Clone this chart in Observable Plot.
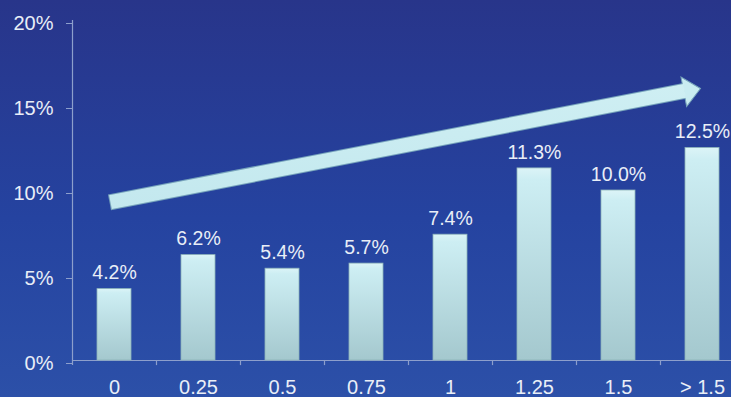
<!DOCTYPE html>
<html>
<head>
<meta charset="utf-8">
<script src="https://cdn.jsdelivr.net/npm/d3@7"></script>
<script src="https://cdn.jsdelivr.net/npm/@observablehq/plot@0.6"></script>
<style>
  html, body { margin: 0; padding: 0; background: #2a449e; overflow: hidden; }
  #chart svg { display: block; }
</style>
</head>
<body>
<div id="chart"></div>
<script>
// ---- data ----
const categories = ["0", "0.25", "0.5", "0.75", "1", "1.25", "1.5", "> 1.5"];
const values = [4.2, 6.2, 5.4, 5.7, 7.4, 11.3, 10.0, 12.5];
const yTicks = [0, 5, 10, 15, 20];
const trendFrom = ["0", 9.3];
const trendTo = ["> 1.5", 16.0];

const rows = categories.map((c, i) => ({category: c, value: values[i]}));
const trend = [{x1: trendFrom[0], y1: trendFrom[1], x2: trendTo[0], y2: trendTo[1]}];

const textColor = "#e9eef7";
const axisColor = "#8d9fcc";
const arrowFill = "#c9ecf1";
const arrowEdge = "#76a3bb";
const font = "Liberation Sans, Arial, sans-serif";

const arrowHead = {
  draw(ctx) {
    ctx.moveTo(0, 0);
    ctx.lineTo(-17, -15);
    ctx.lineTo(-17, 15);
    ctx.closePath();
  }
};

const chart = Plot.plot({
  width: 731,
  height: 397,
  marginLeft: 72,
  marginRight: 0,
  marginTop: 20,
  marginBottom: 37,
  style: {
    background: "linear-gradient(to bottom, #28358a 0%, #2543a0 55%, #2c50a8 100%)",
    fontFamily: font,
    color: textColor,
    overflow: "hidden"
  },
  x: {domain: categories, range: [72, 744], paddingInner: 0.6, paddingOuter: 0.3, label: null},
  y: {domain: [0, 20], label: null},
  marks: [
    Plot.ruleY([0], {stroke: axisColor, strokeWidth: 1.2}),
    Plot.ruleX([categories[0]], {y1: -0.3, y2: 20, dx: -42, stroke: axisColor, strokeWidth: 1.2}),
    Plot.ruleX(categories, {y1: -0.3, y2: 0, dx: 42, stroke: axisColor, strokeWidth: 1.2}),
    Plot.axisY({ticks: yTicks, tickFormat: d => d + "%", tickSize: 6, tickPadding: 13, dy: 3,
      fontSize: 20, stroke: axisColor, fill: textColor, label: null}),
    Plot.axisX({tickSize: 0, tickPadding: 19, fontSize: 20, fill: textColor, label: null}),
    Plot.barY(rows, {x: "category", y: "value", fill: "url(#barGrad)", stroke: "#8db3ba", strokeWidth: 0.8}),
    Plot.text(rows, {x: "category", y: "value", text: d => d.value.toFixed(1) + "%", dy: -16,
      fontSize: 19.5, fill: textColor}),
    // trend arrow
    Plot.arrow(trend, {x1: "x1", y1: "y1", x2: "x2", y2: "y2", headLength: 0, insetEnd: 13,
      stroke: arrowEdge, strokeWidth: 16, strokeLinecap: "butt", strokeLinejoin: "miter", dx: -5}),
    Plot.dot(trend, {x: "x2", y: "y2", symbol: arrowHead, rotate: -10.9, dx: -2,
      fill: arrowFill, stroke: arrowEdge, strokeWidth: 1, r: 10}),
    Plot.arrow(trend, {x1: "x1", y1: "y1", x2: "x2", y2: "y2", headLength: 0, insetEnd: 13, insetStart: 1,
      stroke: "url(#arrowGrad)", strokeWidth: 14, strokeLinecap: "butt", strokeLinejoin: "miter", dx: -5})
  ]
});

const svg = d3.select(chart);
const defs = svg.insert("defs", ":first-child");
const g = defs.append("linearGradient").attr("id", "barGrad").attr("x1", 0).attr("y1", 0).attr("x2", 0).attr("y2", 1);
g.append("stop").attr("offset", "0%").attr("stop-color", "#dcf4f7");
g.append("stop").attr("offset", "6%").attr("stop-color", "#cdeef3");
g.append("stop").attr("offset", "100%").attr("stop-color", "#a4c8ce");
const a = defs.append("linearGradient").attr("id", "arrowGrad").attr("gradientUnits", "userSpaceOnUse")
  .attr("x1", 0).attr("y1", 80).attr("x2", 0).attr("y2", 210);
a.append("stop").attr("offset", "0%").attr("stop-color", "#cfeff3");
a.append("stop").attr("offset", "100%").attr("stop-color", "#c3e8ee");

document.getElementById("chart").appendChild(chart);
</script>
</body>
</html>
